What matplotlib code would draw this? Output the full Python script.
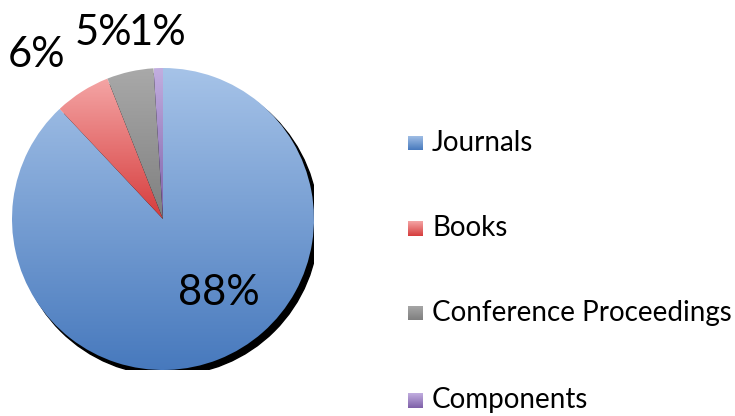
import numpy as np
import matplotlib
matplotlib.use("Agg")
import matplotlib.pyplot as plt
from matplotlib.patches import Circle
from matplotlib.colors import LinearSegmentedColormap

categories = ["Journals", "Books", "Conference Proceedings", "Components"]
values = [88, 6, 5, 1]
pct_labels = ["88%", "6%", "5%", "1%"]
top_colors = ["#a6c3e8", "#f4a5a5", "#a9a9a9", "#c2aee0"]
bottom_colors = ["#4779bd", "#d63c3c", "#7f7f7f", "#7e60a8"]

plt.rcParams['font.family'] = ['Lato', 'DejaVu Sans']

W, H = 735, 416
fig = plt.figure(figsize=(W / 100, H / 100), dpi=100)

cx, cy, r = 163, 219, 151
ax = fig.add_axes([(cx - r) / W, (H - cy - r) / H, 2 * r / W, 2 * r / H])

# shadow
ax.add_patch(Circle((0.03, -0.035), 1.0, color='black', zorder=0))

wedges, _ = ax.pie(values, startangle=90, counterclock=False, radius=1.0,
                   wedgeprops=dict(linewidth=0), center=(0, 0), frame=True)
ax.set_xlim(-1, 1)
ax.set_ylim(-1, 1)
ax.set_aspect('equal')
ax.axis('off')

grad = np.linspace(0, 1, 256).reshape(-1, 1)
for w, tc, bc in zip(wedges, top_colors, bottom_colors):
    w.set_facecolor('none')
    w.set_zorder(1)
    path = w.get_path()
    verts = w.get_patch_transform().transform(path.vertices)
    x0, x1 = verts[:, 0].min(), verts[:, 0].max()
    y0, y1 = verts[:, 1].min(), verts[:, 1].max()
    cmap = LinearSegmentedColormap.from_list('g', [bc, tc])
    im = ax.imshow(grad, cmap=cmap, origin='lower', extent=[x0, x1, y0, y1],
                   aspect='auto', zorder=1, interpolation='bilinear')
    im.set_clip_path(w)

# percentage labels (pixel positions)
label_px = [(219, 293), (37, 55), (103, 33), (157, 33)]
for lab, (px, py) in zip(pct_labels, label_px):
    fig.text(px / W, 1 - py / H, lab, fontsize=30, ha='center', va='center',
             color='black')

# legend
rows_y = [143, 228, 313, 400]
sq = 15
for cat, yy, tc, bc in zip(categories, rows_y, top_colors, bottom_colors):
    lax = fig.add_axes([408 / W, 1 - (yy + sq / 2) / H, sq / W, sq / H])
    cmap = LinearSegmentedColormap.from_list('g', [bc, tc])
    lax.imshow(grad, cmap=cmap, origin='lower', aspect='auto',
               interpolation='bilinear')
    lax.axis('off')
    fig.text(432 / W, 1 - yy / H, cat, fontsize=20, ha='left', va='center',
             color='black')

fig.savefig("out.png", dpi=100)
